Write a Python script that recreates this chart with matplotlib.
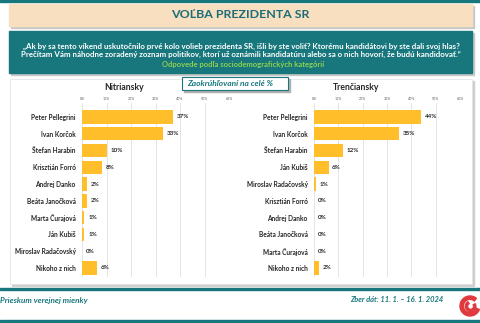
import matplotlib.pyplot as plt
from matplotlib.patches import Rectangle, Wedge

plt.rcParams['font.family'] = ['Lato', 'DejaVu Sans']

W, H = 480, 323
TEAL = '#17777d'
BAR = '#ffbe2a'

# Nitriansky kraj
nitra_names = ['Peter Pellegrini', 'Ivan Korčok', 'Štefan Harabin', 'Krisztián Forró',
               'Andrej Danko', 'Beáta Janočková', 'Marta Čurajová', 'Ján Kubiš',
               'Miroslav Radačovský', 'Nikoho z nich']
nitra_vals = [37, 33, 10, 8, 2, 2, 1, 1, 0, 6]

# Trenčiansky kraj
trencin_names = ['Peter Pellegrini', 'Ivan Korčok', 'Štefan Harabin', 'Ján Kubiš',
                 'Miroslav Radačovský', 'Krisztián Forró', 'Andrej Danko',
                 'Beáta Janočková', 'Marta Čurajová', 'Nikoho z nich']
trencin_vals = [44, 35, 12, 6, 1, 0, 0, 0, 0, 2]

ticks = [0, 10, 20, 30, 40, 50, 60]


def fx(x):
    return x / W


def fy(y):
    return 1 - y / H


def box(fig, x0, y0, x1, y1, zorder=-10, **kw):
    fig.patches.append(Rectangle((fx(x0), fy(y1)), fx(x1) - fx(x0), fy(y0) - fy(y1),
                                 transform=fig.transFigure, zorder=zorder, **kw))


def bar_panel(fig, left, right, title, names, vals):
    ax = fig.add_axes([fx(left), fy(277), fx(right) - fx(left), fy(103) - fy(277)])
    y = range(len(names))
    ax.barh(y, vals, height=0.8, color=BAR, zorder=3)
    for i, v in enumerate(vals):
        ax.text(v + 1.5, i, f'{v}%', va='center', ha='left', fontsize=4.5,
                fontweight='bold', color='#262626')
    ax.set_xlim(0, 60)
    ax.set_ylim(9.54, -0.83)
    ax.set_yticks(list(y))
    ax.set_yticklabels(names, fontsize=4.7, fontweight='bold', color='#262626')
    ax.set_xticks(ticks)
    ax.set_xticklabels([f'{t}%' for t in ticks], fontsize=2.6, color='#595959')
    ax.xaxis.tick_top()
    ax.tick_params(axis='both', length=0)
    ax.tick_params(axis='x', pad=1.5)
    ax.tick_params(axis='y', pad=4.5)
    ax.grid(axis='x', color='#d9d9d9', linewidth=0.5, zorder=0)
    for s in ax.spines.values():
        s.set_visible(False)
    ax.patch.set_alpha(0)
    fig.text(fx((left + right) / 2 - 31), fy(88), title, ha='center', va='center',
             fontsize=6.2, fontweight='bold', color='#262626')


fig = plt.figure(figsize=(4.8, 3.23), dpi=100)
fig.patch.set_facecolor('white')

# horné a dolné čiary
box(fig, 0, 0, 480, 2, color=TEAL)
box(fig, 0, 288, 480, 290, color=TEAL)
box(fig, 0, 320, 480, 322, color=TEAL)

# nadpis
box(fig, 11, 6, 474, 28, color='#c8c8c8')
box(fig, 9, 4, 472, 26, color='#f8dfbf')
fig.text(fx(240), fy(15), 'VOĽBA PREZIDENTA SR', ha='center', va='center',
         fontsize=8.9, fontweight='bold', color='#1a6d78')

box(fig, 11, 33, 474, 75, color='#c8c8c8')
box(fig, 9, 31, 472, 73, color=TEAL)
fig.text(fx(241), fy(46.5), '„Ak by sa tento víkend uskutočnilo prvé kolo volieb prezidenta SR, išli by ste voliť? '
         'Ktorému kandidátovi by ste dali svoj hlas?', ha='center', va='center',
         fontsize=5.7, fontweight='bold', color='white')
fig.text(fx(241), fy(54.5), 'Prečítam Vám náhodne zoradený zoznam politikov, ktorí už oznámili kandidatúru '
         'alebo sa o nich hovorí, že budú kandidovať.“', ha='center', va='center',
         fontsize=5.7, fontweight='bold', color='white')
fig.text(fx(243), fy(65), 'Odpovede podľa sociodemografických kategórií', ha='center', va='center',
         fontsize=5.5, fontweight='bold', color='#8fd14f')

# biely panel s grafmi
box(fig, 12, 81, 474, 286, color='#cfcfcf')
box(fig, 10, 79, 472, 284, facecolor='white', edgecolor='#e0e0e0', linewidth=0.5)

bar_panel(fig, 82, 229, 'Nitriansky', nitra_names, nitra_vals)
bar_panel(fig, 314, 460, 'Trenčiansky', trencin_names, trencin_vals)

box(fig, 184, 79, 290, 92, zorder=5, color='#b0b0b0')
box(fig, 182, 77, 288, 90, zorder=6, facecolor='white', edgecolor=TEAL, linewidth=0.8)
fig.text(fx(230), fy(83.5), 'Zaokrúhľovaní na celé %', ha='center', va='center', zorder=7,
         fontsize=6.0, fontweight='bold', style='italic', color=TEAL)

# pätička
fig.text(fx(0), fy(300), 'Prieskum verejnej mienky', ha='left', va='center',
         fontsize=5.9, fontweight='bold', style='italic', color=TEAL)
fig.text(fx(443), fy(299), 'Zber dát: 11. 1. – 16. 1. 2024', ha='right', va='center',
         fontsize=5.4, fontweight='bold', style='italic', color=TEAL)

# logo
lax = fig.add_axes([fx(458), fy(318), fx(24), fy(0) - fy(24)])
lax.set_xlim(-12, 12)
lax.set_ylim(-12, 12)
lax.set_aspect('equal')
lax.axis('off')
lax.add_patch(Wedge((0, 0), 10, 50, 340, width=3.4, color='#e03a3e'))
lax.add_patch(Wedge((0.6, -0.3), 5.3, 120, 30, width=2.3, color='#e03a3e'))

fig.savefig('out.png', dpi=100)
